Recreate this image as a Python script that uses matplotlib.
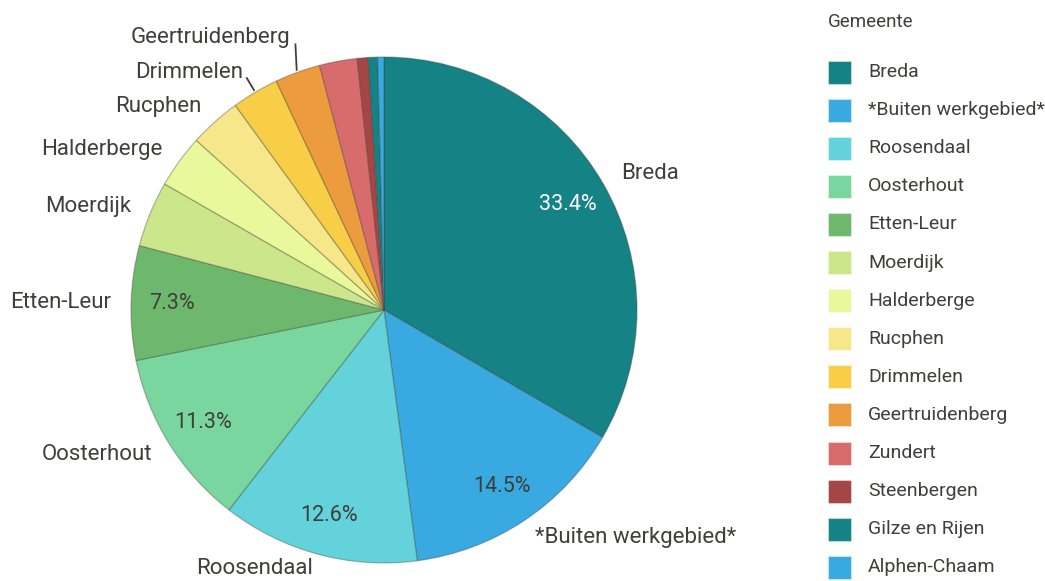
import numpy as np
import matplotlib
matplotlib.use("Agg")
import matplotlib.pyplot as plt
from matplotlib.patches import Rectangle

categories = ["Breda", "*Buiten werkgebied*", "Roosendaal", "Oosterhout", "Etten-Leur",
              "Moerdijk", "Halderberge", "Rucphen", "Drimmelen", "Geertruidenberg",
              "Zundert", "Steenbergen", "Gilze en Rijen", "Alphen-Chaam"]
values = [33.4, 14.5, 12.6, 11.3, 7.3, 4.2, 3.4, 3.3, 3.0, 2.9, 2.4, 0.7, 0.6, 0.4]
colors = ["#158285", "#38a9e1", "#63d2db", "#79d69f", "#6eb86e", "#cce78b", "#e8f89b",
          "#f6e78b", "#f8ce47", "#ec9b3e", "#d86b6b", "#a54546", "#158285", "#38a9e1"]
legend_title = "Gemeente"

W, H = 1045, 581
fig = plt.figure(figsize=(W / 100, H / 100), dpi=100)
ax = fig.add_axes([0, 0, 1, 1])

text_col = "#3f3f3b"
pie_font = ["Roboto", "DejaVu Sans"]
leg_font = ["Roboto", "DejaVu Sans"]

wedges, _ = ax.pie(values, colors=colors, startangle=90, counterclock=False,
                   radius=1.0, center=(0, 0),
                   wedgeprops=dict(edgecolor=(0.25, 0.25, 0.2, 0.35), linewidth=0.9))

# pie centre at pixel (384, 310), radius 253 px
scale = 253.0
cx, cy = 384, 310
ax.set_aspect("auto")
ax.set_xlim(-cx / scale, (W - cx) / scale)
ax.set_ylim(-(H - cy) / scale, cy / scale)
ax.set_axis_off()

ymin_label = -(H - cy - 13) / scale  # keep outer labels inside the canvas

for i, (w, name, v) in enumerate(zip(wedges, categories, values)):
    mid = np.deg2rad((w.theta1 + w.theta2) / 2)
    dx, dy = np.cos(mid), np.sin(mid)
    if v >= 7:
        pd = 0.84
        ax.text(dx * pd, dy * pd, f"{v:.1f}%", ha="center", va="center",
                fontsize=15.5, family=pie_font,
                color="white" if i == 0 else text_col)
    if v >= 2.8:
        r = 1.08
        ha = "left" if dx > 0 else "right"
        tx, ty = dx * r, max(dy * r, ymin_label)
        if name == "Geertruidenberg":
            x0 = dx * 1.01
            ax.plot([x0, x0 - 0.005], [dy * 1.01, 1.05], color=text_col, lw=1.3)
            tx, ty = x0 - 0.025, 1.078
        elif name == "Drimmelen":
            ax.plot([dx * 1.01, dx * 1.065], [dy * 1.01, dy * 1.065], color=text_col, lw=1.3)
            tx, ty = dx * 1.09, dy * 1.09
        ax.text(tx, ty, name, ha=ha, va="center", fontsize=16,
                family=pie_font, color=text_col)

fig.text(828 / W, 1 - 22 / H, legend_title, ha="left", va="center",
         fontsize=13.5, family=leg_font, color=text_col)
y0, step = 72, 38.1
for i, (name, c) in enumerate(zip(categories, colors)):
    yc = y0 + i * step
    fig.patches.append(Rectangle((828 / W, 1 - (yc + 11.5) / H), 23 / W, 23 / H,
                                 transform=fig.transFigure, facecolor=c,
                                 edgecolor=(1, 1, 1, 0.4), linewidth=0.8))
    fig.text(868 / W, 1 - yc / H, name, ha="left", va="center",
             fontsize=14, family=leg_font, color=text_col)

fig.savefig("out.png", dpi=100)
